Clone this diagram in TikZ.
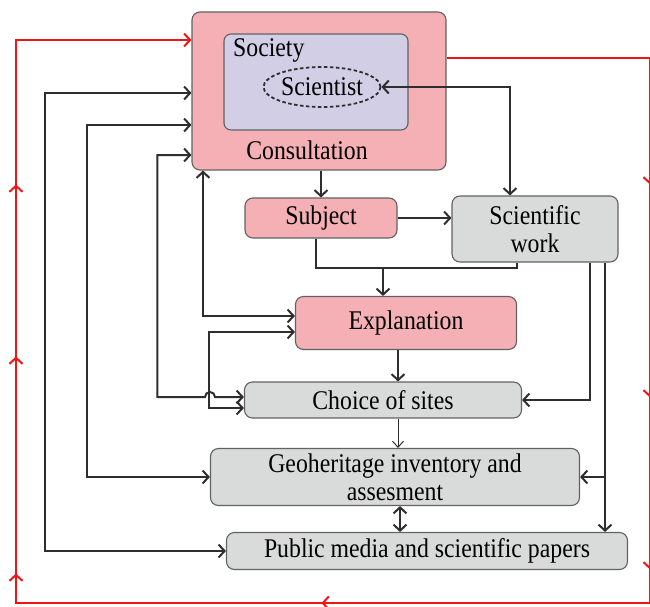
\documentclass[tikz,border=0pt]{standalone}
\usepackage{fontspec}
\setmainfont{Liberation Serif}[FakeStretch=0.88]
\usetikzlibrary{positioning,arrows.meta,shapes.geometric,decorations.markings}
\definecolor{boxpink}{HTML}{F4B0B4}
\definecolor{boxlav}{HTML}{D1CEE6}
\definecolor{boxgrey}{HTML}{D9DADA}
\definecolor{linegrey}{HTML}{2E2E2E}
\definecolor{loopred}{HTML}{F01414}
\tikzset{
  box/.style={rectangle, rounded corners=8pt, draw=linegrey!75, line width=1.1pt, inner sep=0pt, align=center, font=\fontsize{27}{28}\selectfont},
  pinkbox/.style={box, fill=boxpink},
  greybox/.style={box, fill=boxgrey},
  lavbox/.style={box, fill=boxlav, rounded corners=7pt},
  label/.style={inner sep=0pt, font=\fontsize{27}{28}\selectfont},
  fwd/.style={->, line width=2pt, draw=linegrey, >={Straight Barb[length=6pt,width=13pt]}},
  both/.style={<->, line width=2pt, draw=linegrey, >={Straight Barb[length=6pt,width=13pt]}},
  thin/.style={->, line width=1pt, draw=linegrey, >={Straight Barb[length=6pt,width=11pt]}},
  redtip/.style={color=loopred, line width=2pt},
  redloop/.style={->, draw=loopred, line width=2pt, >={Straight Barb[length=6pt,width=13pt]},
                  postaction={decorate}, % arrows along the loop
                  decoration={markings,
                    mark=at position 330pt with {\arrow[redtip]{Straight Barb[length=6pt,width=13pt]}},
                    mark=at position 543pt with {\arrow[redtip]{Straight Barb[length=6pt,width=13pt]}},
                    mark=at position 715pt with {\arrow[redtip]{Straight Barb[length=6pt,width=13pt]}},
                    mark=at position 1077pt with {\arrow[redtip]{Straight Barb[length=6pt,width=13pt]}},
                    mark=at position 1412pt with {\arrow[redtip]{Straight Barb[length=6pt,width=13pt]}},
                    mark=at position 1629pt with {\arrow[redtip]{Straight Barb[length=6pt,width=13pt]}},
                    mark=at position 1801pt with {\arrow[redtip]{Straight Barb[length=6pt,width=13pt]}}}},
}

\begin{document}
\begin{tikzpicture}[x=1pt,y=-1pt]
  \useasboundingbox[fill=white] (0,0) rectangle (650,607);

  \node[pinkbox, minimum width=254pt, minimum height=158pt] (consult) at (319,91) {};
  \node[lavbox, minimum width=184pt, minimum height=96pt] (society) at (316,82) {};
  \node[label, anchor=west] (soclab) at (233,50) {Society};
  \node[ellipse, draw=linegrey, dashed, line width=1.8pt, dash pattern=on 3.5pt off 2.5pt,
        minimum width=117pt, minimum height=40pt, inner sep=0pt, font=\fontsize{27}{28}\selectfont] (scientist) at (322,87) {Scientist};
  \node[label] (conlab) at (307,150) {Consultation};

  \node[pinkbox, minimum width=152pt, minimum height=40pt] (subject) at (321,218) {Subject};
  \node[greybox, minimum width=166pt, minimum height=66pt] (work) at (535,229) {Scientific\\work};
  \node[pinkbox, minimum width=221pt, minimum height=53pt] (expl) at (406,323) {Explanation};
  \node[greybox, minimum width=277pt, minimum height=36pt] (choice) at (383,400) {Choice of sites};
  \node[greybox, minimum width=369pt, minimum height=57pt] (geo) at (395,477) {Geoheritage inventory and\\assesment};
  \node[greybox, minimum width=401pt, minimum height=37pt] (media) at (427,551) {Public media and scientific papers};

  \coordinate (sctop) at ([xshift=-25pt]work.north);
  \coordinate (subbot) at ([xshift=-5pt]subject.south);
  \coordinate (wkbot) at ([xshift=-18pt]work.south);
  \coordinate (mrg) at (383,268);
  \coordinate (wkc) at ([xshift=55pt]work.south);
  \coordinate (wkm) at ([xshift=70pt]work.south);
  \coordinate (exbot) at ([xshift=-8pt]expl.south);
  \coordinate (chbot) at ([xshift=15pt]choice.south);
  \coordinate (geobot) at ([xshift=5pt]geo.south);

  \draw[redloop] (consult.east |- 0,58) -- (650,58) -- (650,603) -- (16,603) -- (16,40) -- (consult.west |- 0,40);

  \draw[fwd] (subject.north |- consult.south) -- (subject.north);
  \draw[both] (scientist.east) -| (sctop);
  \draw[fwd] (subject.east) -- (subject.east -| work.west);
  \draw[line width=2pt, draw=linegrey] (subbot) |- (mrg) -| (wkbot);
  \draw[fwd] (mrg) -- (mrg |- expl.north);
  \draw[fwd] (exbot) -- (exbot |- choice.north);
  \draw[thin] (chbot) -- (chbot |- geo.north);
  \draw[both] (geobot) -- (geobot |- media.north);
  \draw[fwd] (wkc) |- (choice.east);
  \draw[fwd] (wkm) -- (wkm |- media.north);
  \draw[fwd] (wkm |- geo.east) -- (geo.east);

  \draw[both] (consult.west |- 0,93) -- (45,93) |- (media.west);
  \draw[both] (consult.west |- 0,125) -- (87,125) |- (geo.west);
  \draw[both] (consult.west |- 0,155) -- ++(-34,0) |- (205,397) arc[start angle=180, end angle=360, radius=5] -- ([yshift=3pt]choice.west);
  \draw[both] (consult.south -| 203,0) |- ([yshift=7pt]expl.west);
  \draw[both] ([yshift=-9pt]expl.west) -- ++(-86,0) |- ([yshift=-8pt]choice.west);
\end{tikzpicture}
\end{document}
